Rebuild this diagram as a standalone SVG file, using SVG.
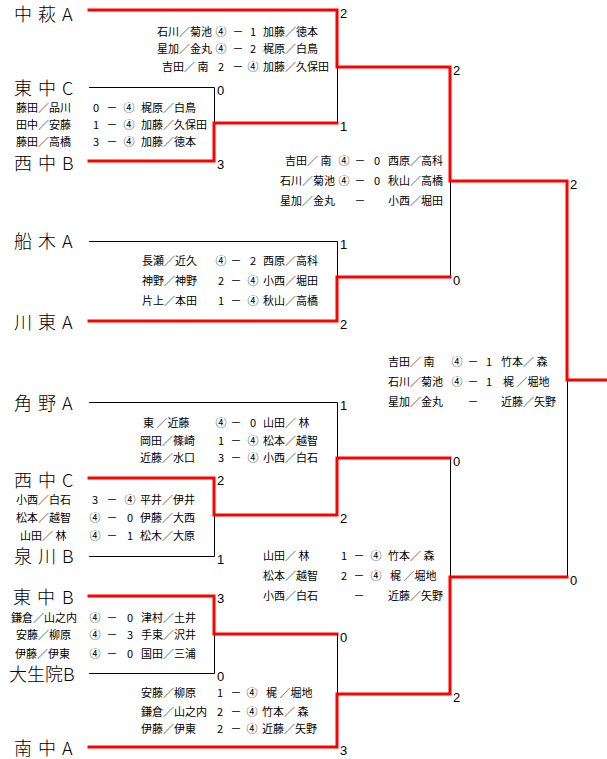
<svg xmlns="http://www.w3.org/2000/svg" width="607" height="759" viewBox="0 0 607 759">
<style>
.team{font-family:"Noto Sans CJK JP","Noto Sans CJK SC",sans-serif;font-size:18px;font-weight:300;fill:#000}
.sm{font-family:"Noto Sans CJK JP","Noto Sans CJK SC",sans-serif;font-size:11px;fill:#000}
.c{text-anchor:middle}
.sc{font-family:"Liberation Sans",Arial,sans-serif;font-size:13px;fill:#000}
.r{stroke:#ff0000;stroke-width:3;fill:none;stroke-linejoin:miter;stroke-linecap:square}
.k{stroke:#000;stroke-width:1;fill:none}
</style>
<rect width="607" height="759" fill="#fff"/>

<g id="connectors">
  <!-- black lines -->
  <polyline class="k" points="89,87.5 214.5,87.5 214.5,123"/>
  <polyline class="k" points="337.5,10 337.5,123"/>
  <polyline class="k" points="89,241.5 337.5,241.5 337.5,277"/>
  <polyline class="k" points="450.5,181 450.5,277"/>
  <polyline class="k" points="89,402.5 337.5,402.5 337.5,458"/>
  <polyline class="k" points="89,556.5 214.5,556.5 214.5,515"/>
  <polyline class="k" points="450.5,458 450.5,577"/>
  <polyline class="k" points="89,673.5 214.5,673.5 214.5,634"/>
  <polyline class="k" points="337.5,634 337.5,694"/>
  <polyline class="k" points="567.5,380 567.5,577"/>
  <!-- red winner lines -->
  <polyline class="r" points="89,10 337,10 337,67 450,67 450,181 567,181 567,380 608,380"/>
  <polyline class="r" points="89,161 214,161 214,123 337,123"/>
  <polyline class="r" points="89,321 337,321 337,277 450,277"/>
  <polyline class="r" points="89,478 214,478 214,515 337,515 337,458 450,458"/>
  <polyline class="r" points="89,596 214,596 214,634 337,634"/>
  <polyline class="r" points="89,747 337,747 337,694 450,694 450,577 567,577"/>
  <!-- scores -->
  <g class="sc">
    <text x="340" y="18">2</text>
    <text x="217" y="95">0</text>
    <text x="217" y="169">3</text>
    <text x="340" y="131">1</text>
    <text x="453" y="75">2</text>
    <text x="340" y="249">1</text>
    <text x="340" y="329">2</text>
    <text x="453" y="285">0</text>
    <text x="570" y="189">2</text>
    <text x="340" y="410">1</text>
    <text x="217" y="485">2</text>
    <text x="340" y="523">2</text>
    <text x="217" y="564">1</text>
    <text x="453" y="466">0</text>
    <text x="217" y="603">3</text>
    <text x="340" y="642">0</text>
    <text x="217" y="681">0</text>
    <text x="453" y="702">2</text>
    <text x="340" y="755">3</text>
    <text x="570" y="585">0</text>
  </g>
</g>

<g id="team-nakahagi-a"><text class="team" x="14 32 38 56 62" y="21">中 萩 A</text></g>
<g id="team-higashichu-c"><text class="team" x="14 32 38 56 62" y="95">東 中 C</text></g>
<g id="team-nishichu-b"><text class="team" x="14 32 38 56 62" y="170">西 中 B</text></g>
<g id="team-funaki-a"><text class="team" x="14 32 38 56 62" y="248">船 木 A</text></g>
<g id="team-kawahigashi-a"><text class="team" x="14 32 38 56 62" y="329">川 東 A</text></g>
<g id="team-kadono-a"><text class="team" x="14 32 38 56 62" y="410">角 野 A</text></g>
<g id="team-nishichu-c"><text class="team" x="14 32 38 56 62" y="487">西 中 C</text></g>
<g id="team-izumikawa-b"><text class="team" x="14 32 38 56 62" y="563">泉 川 B</text></g>
<g id="team-higashichu-b"><text class="team" x="13 31 37 55 62" y="604">東 中 B</text></g>
<g id="team-oijoin-b"><text class="team" x="9" y="681">大生院B</text></g>
<g id="team-minamichu-a"><text class="team" x="14 32 38 56 62" y="755">南 中 A</text></g>

<g id="match-1" class="sm">
  <text x="157" y="36">石川／菊池</text><text class="c" x="221" y="36">④</text><text class="c" x="238" y="36">－</text><text class="c" x="253" y="36">1</text><text x="263" y="36">加藤／徳本</text>
  <text x="157" y="53">星加／金丸</text><text class="c" x="221" y="53">④</text><text class="c" x="238" y="53">－</text><text class="c" x="253" y="53">2</text><text x="263" y="53">梶原／白鳥</text>
  <text x="162" y="71">吉田／ 南</text><text class="c" x="221" y="71">2</text><text class="c" x="238" y="71">－</text><text class="c" x="253" y="71">④</text><text x="263" y="71">加藤／久保田</text>
</g>
<g id="match-2" class="sm">
  <text x="16" y="112">藤田／品川</text><text class="c" x="96" y="112">0</text><text class="c" x="112" y="112">－</text><text class="c" x="129" y="112">④</text><text x="141" y="112">梶原／白鳥</text>
  <text x="16" y="129">田中／安藤</text><text class="c" x="96" y="129">1</text><text class="c" x="112" y="129">－</text><text class="c" x="129" y="129">④</text><text x="141" y="129">加藤／久保田</text>
  <text x="16" y="146">藤田／高橋</text><text class="c" x="96" y="146">3</text><text class="c" x="112" y="146">－</text><text class="c" x="129" y="146">④</text><text x="141" y="146">加藤／徳本</text>
</g>
<g id="match-3" class="sm">
  <text x="285" y="165">吉田／ 南</text><text class="c" x="344" y="165">④</text><text class="c" x="360" y="165">－</text><text class="c" x="377" y="165">0</text><text x="388" y="165">西原／高科</text>
  <text x="280" y="185">石川／菊池</text><text class="c" x="344" y="185">④</text><text class="c" x="360" y="185">－</text><text class="c" x="377" y="185">0</text><text x="388" y="185">秋山／高橋</text>
  <text x="280" y="205">星加／金丸</text><text class="c" x="360" y="205">－</text><text x="388" y="205">小西／堀田</text>
</g>
<g id="match-4" class="sm">
  <text x="142" y="265">長瀬／近久</text><text class="c" x="221" y="265">④</text><text class="c" x="236" y="265">－</text><text class="c" x="253" y="265">2</text><text x="263" y="265">西原／高科</text>
  <text x="142" y="285">神野／神野</text><text class="c" x="221" y="285">2</text><text class="c" x="236" y="285">－</text><text class="c" x="253" y="285">④</text><text x="263" y="285">小西／堀田</text>
  <text x="142" y="305">片上／本田</text><text class="c" x="221" y="305">1</text><text class="c" x="236" y="305">－</text><text class="c" x="253" y="305">④</text><text x="263" y="305">秋山／高橋</text>
</g>
<g id="match-5" class="sm">
  <text x="388" y="366">吉田／ 南</text><text class="c" x="457" y="366">④</text><text class="c" x="473" y="366">－</text><text class="c" x="489" y="366">1</text><text x="501" y="366">竹本／ 森</text>
  <text x="388" y="386">石川／菊池</text><text class="c" x="457" y="386">④</text><text class="c" x="473" y="386">－</text><text class="c" x="489" y="386">1</text><text x="503" y="386">梶 ／堀地</text>
  <text x="388" y="406">星加／金丸</text><text class="c" x="473" y="406">－</text><text x="501" y="406">近藤／矢野</text>
</g>
<g id="match-6" class="sm">
  <text x="143" y="427">東 ／近藤</text><text class="c" x="221" y="427">④</text><text class="c" x="236" y="427">－</text><text class="c" x="253" y="427">0</text><text x="263" y="427">山田／ 林</text>
  <text x="140" y="445">岡田／篠崎</text><text class="c" x="221" y="445">1</text><text class="c" x="236" y="445">－</text><text class="c" x="253" y="445">④</text><text x="263" y="445">松本／越智</text>
  <text x="140" y="462">近藤／水口</text><text class="c" x="221" y="462">3</text><text class="c" x="236" y="462">－</text><text class="c" x="253" y="462">④</text><text x="263" y="462">小西／白石</text>
</g>
<g id="match-7" class="sm">
  <text x="16" y="504">小西／白石</text><text class="c" x="95" y="504">3</text><text class="c" x="112" y="504">－</text><text class="c" x="130" y="504">④</text><text x="140" y="504">平井／伊井</text>
  <text x="16" y="522">松本／越智</text><text class="c" x="95" y="522">④</text><text class="c" x="112" y="522">－</text><text class="c" x="130" y="522">0</text><text x="140" y="522">伊藤／大西</text>
  <text x="20" y="540">山田／ 林</text><text class="c" x="95" y="540">④</text><text class="c" x="112" y="540">－</text><text class="c" x="130" y="540">1</text><text x="140" y="540">松木／大原</text>
</g>
<g id="match-8" class="sm">
  <text x="263" y="560">山田／ 林</text><text class="c" x="344" y="560">1</text><text class="c" x="359" y="560">－</text><text class="c" x="376" y="560">④</text><text x="388" y="560">竹本／ 森</text>
  <text x="263" y="580">松本／越智</text><text class="c" x="344" y="580">2</text><text class="c" x="359" y="580">－</text><text class="c" x="376" y="580">④</text><text x="390" y="580">梶 ／堀地</text>
  <text x="263" y="600">小西／白石</text><text class="c" x="359" y="600">－</text><text x="388" y="600">近藤／矢野</text>
</g>
<g id="match-9" class="sm">
  <text x="11" y="622">鎌倉／山之内</text><text class="c" x="95" y="622">④</text><text class="c" x="112" y="622">－</text><text class="c" x="130" y="622">0</text><text x="141" y="622">津村／土井</text>
  <text x="16" y="639">安藤／柳原</text><text class="c" x="95" y="639">④</text><text class="c" x="112" y="639">－</text><text class="c" x="130" y="639">3</text><text x="141" y="639">手束／沢井</text>
  <text x="15" y="658">伊藤／伊東</text><text class="c" x="95" y="658">④</text><text class="c" x="112" y="658">－</text><text class="c" x="130" y="658">0</text><text x="141" y="658">国田／三浦</text>
</g>
<g id="match-10" class="sm">
  <text x="141" y="697">安藤／柳原</text><text class="c" x="220" y="697">1</text><text class="c" x="236" y="697">－</text><text class="c" x="252" y="697">④</text><text x="266" y="697">梶 ／堀地</text>
  <text x="141" y="716">鎌倉／山之内</text><text class="c" x="220" y="716">2</text><text class="c" x="236" y="716">－</text><text class="c" x="252" y="716">④</text><text x="262" y="716">竹本／ 森</text>
  <text x="141" y="733">伊藤／伊東</text><text class="c" x="220" y="733">2</text><text class="c" x="236" y="733">－</text><text class="c" x="252" y="733">④</text><text x="262" y="733">近藤／矢野</text>
</g>
</svg>
